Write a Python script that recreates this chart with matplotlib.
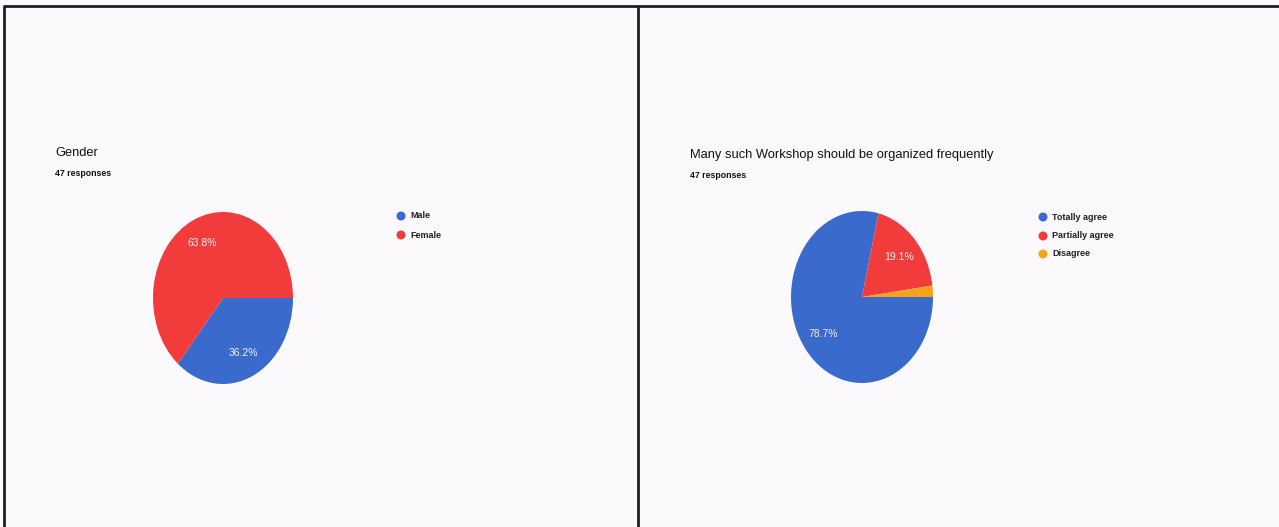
import matplotlib
matplotlib.use("Agg")
import matplotlib.pyplot as plt

# ---- data ----
gender_title = "Gender"
gender_labels = ["Male", "Female"]
gender_counts = [17, 30]          # 36.2% / 63.8% of 47

workshop_title = "Many such Workshop should be organized frequently"
workshop_labels = ["Totally agree", "Partially agree", "Disagree"]
workshop_legend_text = ["Totally agree", "Partially agree", "Disagree"]
workshop_counts = [37, 9, 1]      # 78.7% / 19.1% / 2.1% of 47

responses_text = "47 responses"

BLUE = "#3a6acb"
RED = "#f23c3c"
ORANGE = "#f5a31d"
BG = "#fbf9fb"

W, H = 1279, 527
fig = plt.figure(figsize=(W / 100, H / 100), dpi=100, facecolor=BG)
plt.rcParams['font.family'] = ['Liberation Sans', 'DejaVu Sans']

# overlay axes in pixel coordinates
ov = fig.add_axes([0, 0, 1, 1], zorder=0)
ov.set_xlim(0, W)
ov.set_ylim(H, 0)
ov.axis("off")
ov.patch.set_alpha(0)

# frame lines (table-like borders)
line_kw = dict(color="#1e1e24", lw=2.0, solid_capstyle="butt")
ov.plot([3, W], [6, 6], **line_kw)
ov.plot([3.5, 3.5], [6, H], **line_kw)
ov.plot([638, 638], [6, H], **line_kw)


def pie_axes(cx, cy, rx, ry):
    ax = fig.add_axes([(cx - rx) / W, (H - cy - ry) / H, 2 * rx / W, 2 * ry / H], zorder=2)
    return ax


def autopct_fn(p):
    return f"{p:.1f}%" if p >= 5 else ""


def draw_panel(ax, counts, colors):
    wedges, texts, autotexts = ax.pie(
        counts, colors=colors, startangle=0, counterclock=False,
        autopct=autopct_fn, pctdistance=0.7, radius=1.0,
        wedgeprops=dict(linewidth=0),
        textprops=dict(color="#f4eef4", fontsize=7.5))
    ax.set_aspect("auto")
    ax.set_xlim(-1, 1)
    ax.set_ylim(-1, 1)
    ax.axis("off")
    return wedges


# left panel: Gender
axL = pie_axes(223, 298, 70, 86)
draw_panel(axL, gender_counts, [BLUE, RED])
ov.text(55, 153, gender_title, fontsize=9.3, color="#111111", va="center", ha="left")
ov.text(55, 174, responses_text, fontsize=6.3, color="#111111", va="center", ha="left",
        fontweight="bold")
leg_y_L = [216, 235]
ov.scatter([401] * len(gender_labels), leg_y_L, s=42, c=[BLUE, RED], zorder=3, linewidths=0)
for y, lab in zip(leg_y_L, gender_labels):
    ov.text(410, y, lab, fontsize=6.5, color="#222222", va="center", ha="left", fontweight="bold")

# right panel: Workshop
axR = pie_axes(862, 297, 71, 86)
draw_panel(axR, workshop_counts, [BLUE, RED, ORANGE])
ov.text(690, 155, workshop_title, fontsize=9.3, color="#111111", va="center", ha="left")
ov.text(690, 176, responses_text, fontsize=6.3, color="#111111", va="center", ha="left",
        fontweight="bold")
leg_y_R = [217, 236, 254]
ov.scatter([1043] * len(workshop_labels), leg_y_R, s=42, c=[BLUE, RED, ORANGE], zorder=3, linewidths=0)
for y, lab in zip(leg_y_R, workshop_legend_text):
    ov.text(1052, y, lab, fontsize=6.5, color="#222222", va="center", ha="left", fontweight="bold")

fig.savefig("out.png", dpi=100, facecolor=BG)
